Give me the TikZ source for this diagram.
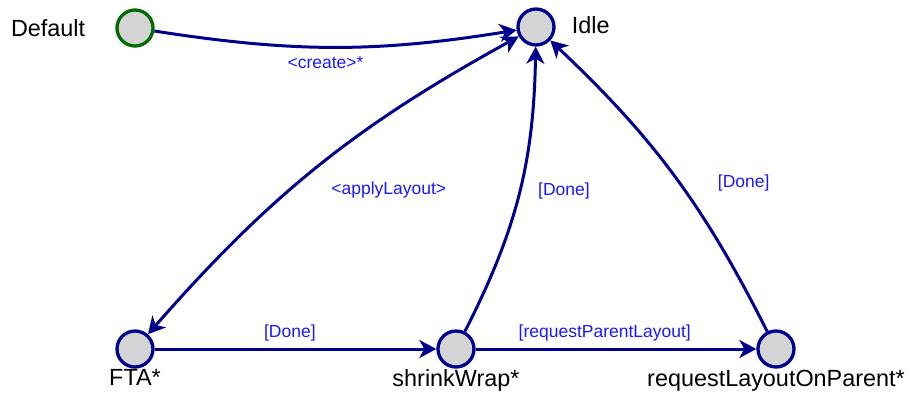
\documentclass[tikz,border=0pt]{standalone}
\usepackage{fontspec}
\setmainfont{Liberation Sans}
\usetikzlibrary{arrows.meta}

\definecolor{edgeblue}{rgb}{0,0,0.55}
\definecolor{lblblue}{rgb}{0.1,0.1,1}
\definecolor{startgreen}{rgb}{0,0.42,0}
\definecolor{stategray}{rgb}{0.83,0.83,0.83}

\tikzset{
  state/.style={circle, draw=edgeblue, fill=stategray, line width=3.3pt, minimum size=36pt, inner sep=0pt},
  startstate/.style={state, draw=startgreen},
  statename/.style={font=\fontsize{23.4}{26}\selectfont, inner sep=0pt},
  trans/.style={draw=edgeblue, line width=3pt, -{Stealth[length=17pt, width=18pt, inset=5pt]}},
  lbl/.style={font=\fontsize{17.5}{20}\selectfont, text=lblblue, inner sep=1pt}
}

\begin{document}
\begin{tikzpicture}[x=1pt,y=1pt]
    \useasboundingbox (0,0) rectangle (911,397);

    % states
    \node [startstate, label={[statename, label distance=30pt]left:Default}] (default) at (135,369) {};
    \node [state, label={[statename, label distance=16pt, yshift=2pt]right:Idle}] (idle) at (536,370) {};
    \node [state, label={[statename, label distance=1pt]below:FTA*}] (fta) at (135,48) {};
    \node [state, label={[statename, label distance=1pt]below:shrinkWrap*}] (shrink) at (456,48) {};
    \node [state, label={[statename, label distance=1pt]below:requestLayoutOnParent*}] (reqlayout) at (776,48) {};

    % transitions
    \draw [trans] (default) to[bend right=9] node [lbl, pos=0.47, below=7pt] {<create>*} (idle);
    \draw [trans, {Stealth[length=17pt, width=18pt, inset=5pt]}-{Stealth[length=17pt, width=18pt, inset=5pt]}] (fta) to[bend left=10] node [lbl, pos=0.44, right=31pt, yshift=-7pt] {<applyLayout>} (idle);
    \draw [trans] (fta) -- node [lbl, pos=0.48, above=5pt] {[Done]} (shrink);
    \draw [trans] (shrink) -- node [lbl, pos=0.46, above=5pt] {[requestParentLayout]} (reqlayout);
    \draw [trans] (shrink) to[bend right=13] node [lbl, pos=0.51, right=16pt] {[Done]} (idle);
    \draw [trans] (reqlayout) to[bend right=10] node [lbl, pos=0.47, right=36pt] {[Done]} (idle);

\end{tikzpicture}
\end{document}
